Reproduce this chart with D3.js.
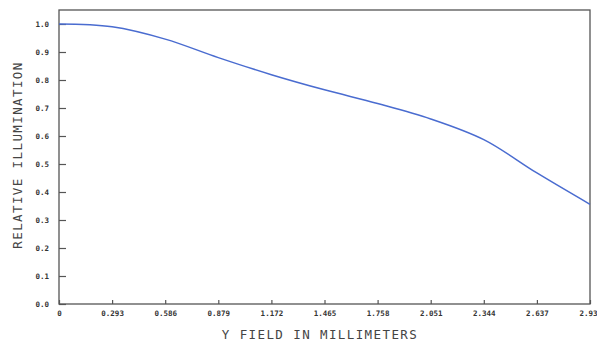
<!DOCTYPE html>
<html><head><meta charset="utf-8">
<script src="https://cdn.jsdelivr.net/npm/d3@7"></script>
<style>
html,body{margin:0;padding:0;background:#fff;}
svg{display:block;}
.tick text{font-family:"DejaVu Sans Mono",monospace;font-weight:bold;font-size:7.5px;fill:#333;}
.title{font-family:"DejaVu Sans Mono",monospace;font-size:12.5px;fill:#444;letter-spacing:1.4px;}
</style></head>
<body>
<script>
const fieldMM = [0,0.293,0.586,0.879,1.172,1.465,1.758,2.051,2.344,2.637,2.93];
const illumination = [1.000,0.990,0.946,0.880,0.819,0.765,0.716,0.661,0.587,0.468,0.356];
const xTicks = [0,0.293,0.586,0.879,1.172,1.465,1.758,2.051,2.344,2.637,2.93];
const xTickLabels = ["0","0.293","0.586","0.879","1.172","1.465","1.758","2.051","2.344","2.637","2.93"];
const yTicks = [0,0.1,0.2,0.3,0.4,0.5,0.6,0.7,0.8,0.9,1.0];
const xTitle = "Y FIELD IN MILLIMETERS";
const yTitle = "RELATIVE ILLUMINATION";

const W=597,H=343;
const m={left:59,top:10,right:590,bottom:304};
const svg=d3.select("body").append("svg").attr("width",W).attr("height",H);
const x=d3.scaleLinear().domain([0,2.93]).range([m.left,m.right]);
const y=d3.scaleLinear().domain([0,1.0]).range([m.bottom,m.bottom-280]);

// frame
svg.append("rect").attr("x",m.left).attr("y",m.top).attr("width",m.right-m.left).attr("height",m.bottom-m.top)
  .attr("fill","none").attr("stroke","#555").attr("stroke-width",1.3);

const xa=svg.append("g").attr("transform",`translate(0,${m.bottom})`)
  .call(d3.axisBottom(x).tickValues(xTicks).tickSize(-4).tickPadding(7).tickFormat((d,i)=>xTickLabels[i]));
xa.select(".domain").remove();
xa.selectAll(".tick line").attr("stroke","#555").attr("stroke-width",1.2);
// keep the last label inside the page
xa.selectAll(".tick text").filter((d,i)=>i===xTicks.length-1).attr("text-anchor","end").attr("dx",7);

const ya=svg.append("g").attr("transform",`translate(${m.left},0)`)
  .call(d3.axisLeft(y).tickValues(yTicks).tickSize(-7).tickPadding(10).tickFormat(d3.format(".1f")));
ya.select(".domain").remove();
ya.selectAll(".tick line").attr("stroke","#555").attr("stroke-width",1.2);

svg.append("path").datum(fieldMM.map((d,i)=>[d,illumination[i]]))
  .attr("fill","none").attr("stroke","#4a6cd0").attr("stroke-width",1.5)
  .attr("d",d3.line().x(d=>x(d[0])).y(d=>y(d[1])).curve(d3.curveCatmullRom.alpha(0.5)));

svg.append("text").attr("class","title").attr("x",320).attr("y",339).attr("text-anchor","middle").text(xTitle);
svg.append("text").attr("class","title").attr("transform","translate(22,155) rotate(-90)").attr("text-anchor","middle").text(yTitle);
</script>
</body></html>
